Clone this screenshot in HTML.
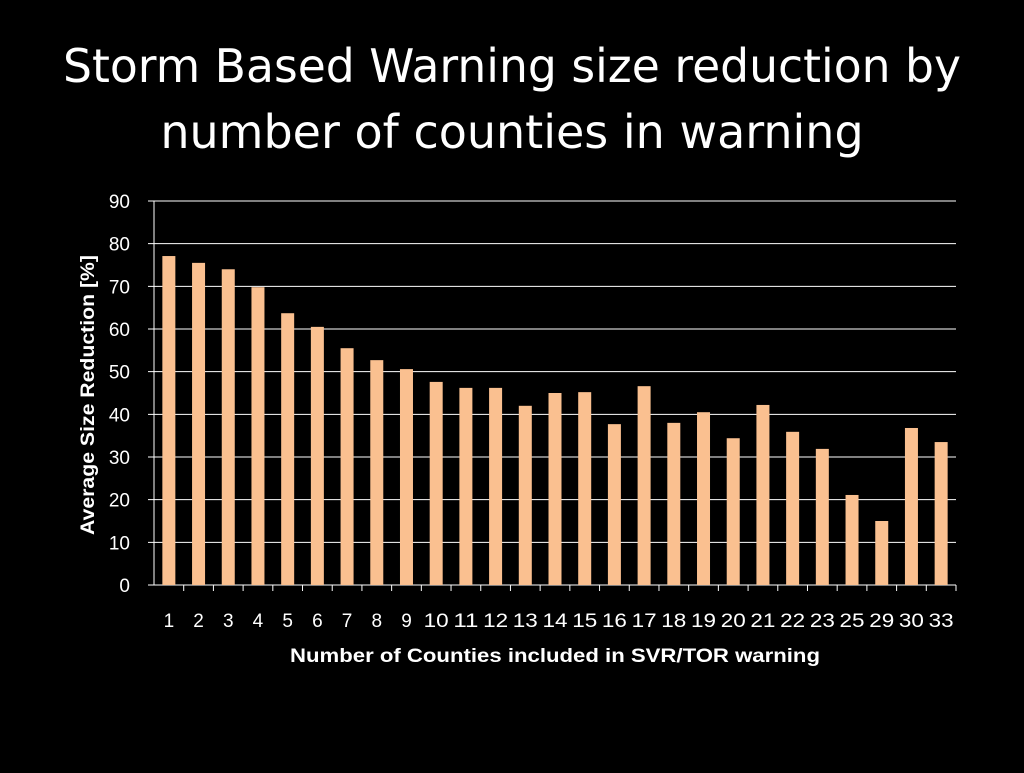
<!DOCTYPE html>
<html><head><meta charset="utf-8"><style>
body{margin:0;background:#000;width:1024px;height:768px;overflow:hidden;font-family:"Liberation Sans",sans-serif}
</style></head><body>
<svg width="1024" height="768">
<text x="512" y="82" fill="#fff" font-size="46" text-anchor="middle" font-family="DejaVu Sans, Liberation Sans, sans-serif" textLength="898" lengthAdjust="spacingAndGlyphs">Storm Based Warning size reduction by</text>
<text x="512" y="148" fill="#fff" font-size="46" text-anchor="middle" font-family="DejaVu Sans, Liberation Sans, sans-serif">number of counties in warning</text>
<g id="grid"></g><g id="bars"></g><g id="ticks"></g>
<text transform="translate(94,395) rotate(-90)" fill="#fff" font-size="19" font-weight="bold" text-anchor="middle" textLength="280" lengthAdjust="spacingAndGlyphs">Average Size Reduction [%]</text>
<text x="555" y="662" fill="#fff" font-size="19" font-weight="bold" text-anchor="middle" textLength="530" lengthAdjust="spacingAndGlyphs">Number of Counties included in SVR/TOR warning</text>
</svg>
<script>
const categories=["1","2","3","4","5","6","7","8","9","10","11","12","13","14","15","16","17","18","19","20","21","22","23","25","29","30","33"];
const values=[77.1,75.5,74,69.8,63.7,60.5,55.5,52.7,50.6,47.6,46.2,46.2,42,45,45.2,37.7,46.6,38,40.5,34.4,42.2,35.9,31.9,21.1,15,36.8,33.5];
const yTicks=[0,10,20,30,40,50,60,70,80,90];
const NS="http://www.w3.org/2000/svg";
const x0=154,x1=956,yb=585,yt=201,ymax=90;
const y=v=>yb-(v/ymax)*(yb-yt);
const bw=(x1-x0)/categories.length;
const xc=i=>x0+bw*(i+0.5);
function mk(t,a,p){const e=document.createElementNS(NS,t);for(const k in a)e.setAttribute(k,a[k]);p.appendChild(e);return e;}
const grid=document.getElementById('grid'),bars=document.getElementById('bars'),ticks=document.getElementById('ticks');
yTicks.forEach(v=>{
 const l=mk('line',{x1:x0-6,x2:x1,y1:y(v),y2:y(v),stroke:'#fff','stroke-width':1},grid);
 
 
 const t=mk('text',{x:130,y:y(v)+7,fill:'#fff','font-size':19,'text-anchor':'end'},ticks);
 t.textContent=v;
 
 
});
const ax=mk('line',{x1:x0,x2:x0,y1:yt,y2:yb,stroke:'#fff'},grid);


categories.forEach((c,i)=>{
 const tk=mk('line',{x1:x0+bw*(i+1),x2:x0+bw*(i+1),y1:yb,y2:yb+6,stroke:'#fff'},grid);
 
 
 const r=mk('rect',{x:xc(i)-6.5,y:y(values[i]),width:13,height:yb-y(values[i]),fill:'#FAC090'},bars);
 
 
 const t=mk('text',{x:xc(i),y:627,fill:'#fff','font-size':19,'text-anchor':'middle'},ticks);
 if(c.length>1){t.setAttribute('textLength',25);t.setAttribute('lengthAdjust','spacingAndGlyphs');}
 t.textContent=c;
 
 
});
</script>
</body></html>
